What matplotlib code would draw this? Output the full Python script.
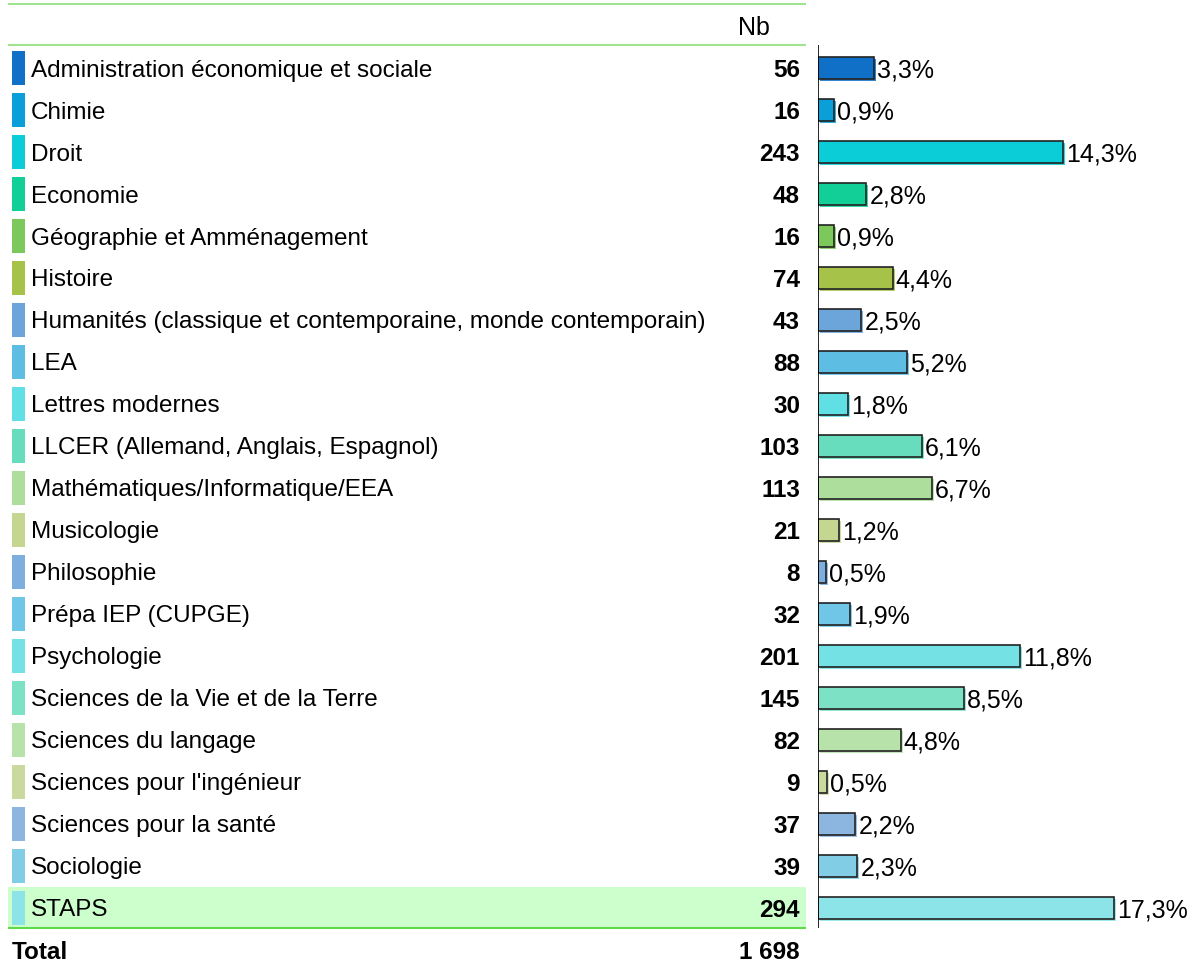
import matplotlib
matplotlib.use('Agg')
import matplotlib.pyplot as plt

plt.rcParams['font.family'] = ['Liberation Sans', 'DejaVu Sans']

# données
labels = [
    "Administration économique et sociale", "Chimie", "Droit", "Economie",
    "Géographie et Amménagement", "Histoire",
    "Humanités (classique et contemporaine, monde contemporain)", "LEA",
    "Lettres modernes", "LLCER (Allemand, Anglais, Espagnol)",
    "Mathématiques/Informatique/EEA", "Musicologie", "Philosophie",
    "Prépa IEP (CUPGE)", "Psychologie", "Sciences de la Vie et de la Terre",
    "Sciences du langage", "Sciences pour l'ingénieur",
    "Sciences pour la santé", "Sociologie", "STAPS",
]
counts = [56, 16, 243, 48, 16, 74, 43, 88, 30, 103, 113, 21, 8, 32, 201, 145, 82, 9, 37, 39, 294]
pcts = ["3,3%", "0,9%", "14,3%", "2,8%", "0,9%", "4,4%", "2,5%", "5,2%", "1,8%", "6,1%",
        "6,7%", "1,2%", "0,5%", "1,9%", "11,8%", "8,5%", "4,8%", "0,5%", "2,2%", "2,3%", "17,3%"]
colors = ["#1070C8", "#0A9FD8", "#0BCDD8", "#12CF98", "#7DC85A", "#A6C248", "#6BA5DA",
          "#5DBDE3", "#60DFE4", "#68DDBE", "#ADDE9B", "#C5D690", "#7DAEDE", "#70C6E6",
          "#74E1E4", "#7DE1C5", "#B7E2AA", "#CAD99D", "#8CB6E0", "#82CDE6", "#8CE4E8"]
total_label = "Total"
total_value = "1 698"
header = "Nb"

W, H = 1192, 965
fig = plt.figure(figsize=(W / 100, H / 100), dpi=100)

fs = 17.5      # libellés
fs_pct = 18    # pourcentages
va = 'center_baseline'

# lignes : une unité = une ligne du tableau
ylim = (21.36, -1.62)
n = len(labels)
rows = list(range(n))

# tableau (axe en pixels horizontalement)
ax = fig.add_axes([0, 0, 1, 1])
ax.set_xlim(0, W)
ax.set_ylim(*ylim)
ax.axis('off')

# fond de la ligne STAPS
ax.barh(n - 1, 798, left=8, height=1.0, color="#CCFFCC", zorder=0)
ax.hlines([-1.52, -0.55], 8, 806, color="#A0E490", lw=1.5)
ax.hlines([n - 0.52], 8, 806, color="#5ED94A", lw=1.5)

# petits repères de couleur
ax.barh(rows, 13, left=12, height=0.82, color=colors, zorder=2)

for i in rows:
    ax.text(31, i, labels[i], fontsize=fs, va=va, ha='left')
    ax.text(800, i, str(counts[i]), fontsize=fs, fontweight='bold', va=va, ha='right')

ax.text(754, -1.02, header, fontsize=fs_pct, va=va, ha='center')
ax.text(12, n, total_label, fontsize=fs, fontweight='bold', va=va, ha='left')
ax.text(800, n, total_value, fontsize=fs, fontweight='bold', va=va, ha='right')

# barres
axb = fig.add_axes([818 / W, 0, (W - 818) / W, 1])
axb.set_xlim(0, (W - 818) / 1.007)
axb.set_ylim(*ylim)
axb.axis('off')

# ombre
axb.barh([r + 0.05 for r in rows], counts, left=2, height=0.51, color=colors, alpha=0.85, zorder=1)
axb.barh(rows, counts, height=0.51, color=colors, edgecolor="#222222", lw=1.2, zorder=2)
axb.vlines(0, -0.55, n - 0.52, color="black", lw=1.2, zorder=3)

for i in rows:
    axb.text(counts[i] + 3, i, pcts[i], fontsize=fs_pct, va=va, ha='left')

fig.savefig("out.png", dpi=100)
